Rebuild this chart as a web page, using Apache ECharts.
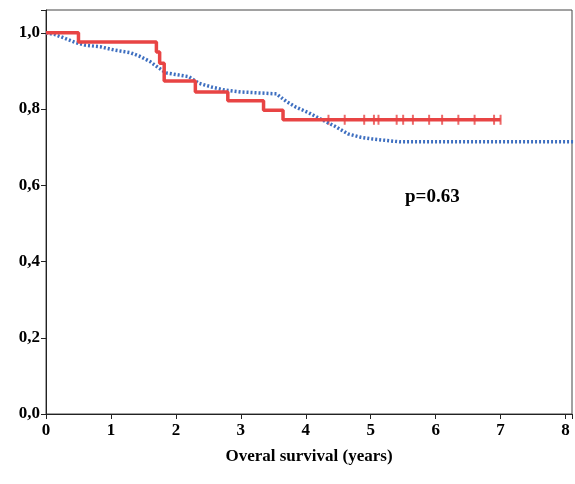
<!DOCTYPE html>
<html style="height: 100%">
<head><meta charset="utf-8"></head>
<body style="height: 100%; margin: 0">
<div id="container" style="width:575px;height:484px"></div>
<script src="https://cdn.jsdelivr.net/npm/echarts@6/dist/echarts.min.js"></script>
<script type="text/javascript">
// red group: [time, survival]
var redCurve = [[0,1],[0.5,1],[0.5,0.976],[1.7,0.976],[1.7,0.95],[1.75,0.95],[1.75,0.92],[1.82,0.92],[1.82,0.874],
    [2.3,0.874],[2.3,0.845],[2.8,0.845],[2.8,0.822],[3.35,0.822],[3.35,0.797],[3.65,0.797],[3.65,0.772],[7.0,0.772]];
var redCensor = [4.35,4.6,4.9,5.05,5.12,5.4,5.5,5.65,5.9,6.1,6.35,6.6,6.9,7.0];
// blue group
var blueCurve = [[0,1],[0.15,0.995],[0.3,0.985],[0.45,0.975],[0.6,0.968],[0.85,0.963],[1.05,0.955],[1.3,0.948],
    [1.45,0.938],[1.6,0.925],[1.72,0.91],[1.85,0.895],[2.2,0.885],[2.35,0.868],[2.55,0.858],[2.75,0.85],
    [3.0,0.845],[3.55,0.84],[3.7,0.82],[3.85,0.805],[4.05,0.79],[4.25,0.772],[4.45,0.755],[4.65,0.735],
    [4.85,0.726],[5.0,0.722],[5.45,0.714],[8.15,0.714]];
var xTicks = [0,1,2,3,4,5,6,7,8];
var pLabel = 'p=0.63';

var font = 'Liberation Serif';
var chart = echarts.init(document.getElementById('container'));
chart.setOption({
    animation: false,
    grid: {left: 46, right: 2, top: 10, bottom: 70, show: true, borderColor: '#444', borderWidth: 1},
    xAxis: {
        type: 'value', min: 0, max: 8.1, interval: 1,
        axisLine: {lineStyle: {color: '#222'}},
        axisTick: {show: true, lineStyle: {color: '#222'}},
        splitLine: {show: false},
        axisLabel: {color: '#000', fontFamily: font, fontWeight: 'bold', fontSize: 17,
            formatter: function (v) { return xTicks.indexOf(v) >= 0 ? String(v) : ''; }},
        name: 'Overal survival (years)', nameLocation: 'middle', nameGap: 34,
        nameTextStyle: {color: '#000', fontFamily: font, fontWeight: 'bold', fontSize: 17}
    },
    yAxis: {
        type: 'value', min: 0, max: 1.06, interval: 0.2,
        axisLine: {show: true, lineStyle: {color: '#222'}},
        axisTick: {show: true, lineStyle: {color: '#222'}},
        splitLine: {show: false},
        axisLabel: {color: '#000', fontFamily: font, fontWeight: 'bold', fontSize: 17, margin: 6,
            formatter: function (v) { return v > 1.01 ? '' : v.toFixed(1).replace('.', ','); }}
    },
    series: [
        {type: 'line', data: blueCurve, showSymbol: false,
            lineStyle: {color: '#3e6fc0', width: 3.5, type: [2, 2]}},
        {type: 'line', data: redCurve, showSymbol: false,
            lineStyle: {color: '#e84444', width: 3.5}},
        {type: 'scatter', data: redCensor.map(function (t) { return [t, 0.772]; }),
            symbol: 'rect', symbolSize: [2, 10],
            itemStyle: {color: '#e84444'}}
    ],
    graphic: [{type: 'text', left: 405, top: 188,
        style: {text: pLabel, font: 'bold 19px "Liberation Serif"', fill: '#000'}}]
});
</script>
</body>
</html>
